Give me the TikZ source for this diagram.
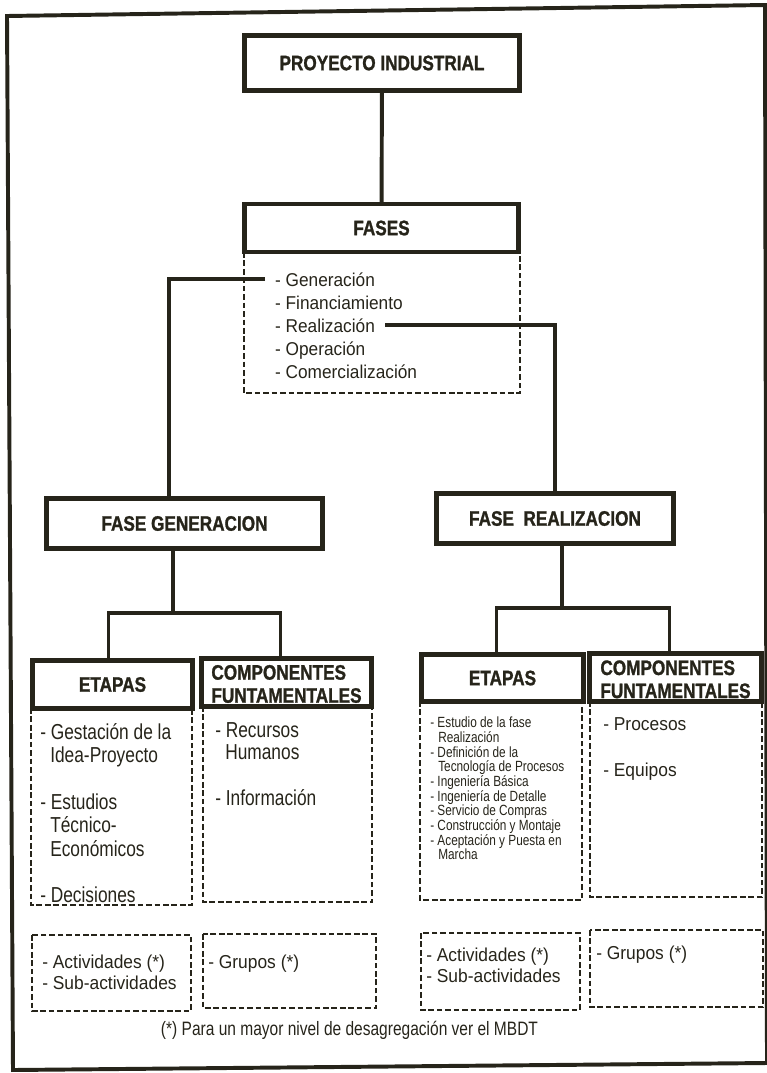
\documentclass[tikz,border=0pt]{standalone}
\usepackage{fontspec}
\setmainfont{Liberation Sans}
\newfontfamily\nfont{Liberation Sans}[FakeStretch=0.93]
\newfontfamily\cfont{Liberation Sans}[FakeStretch=0.80]
\newfontfamily\bfont{Liberation Sans Bold}[FakeStretch=0.82, FakeBold=1.2]
\newlength{\px}
\setlength{\px}{0.025cm}
\newcommand{\contind}{\hspace*{10\px}}
\definecolor{ink}{RGB}{38,36,26}

\begin{document}
\begin{tikzpicture}[x=0.025cm, y=-0.025cm, ink,
  hbox/.style={draw=ink, line width=3pt, inner sep=0pt, font=\bfont\fontsize{14.9}{16.4}\selectfont},
  dbox/.style={draw=ink, line width=1.3pt, dash pattern=on 4pt off 2pt},
  link/.style={draw=ink, line width=2.8pt},
  fitem/.style={anchor=base west, inner xsep=7pt, inner ysep=0pt, font=\nfont\fontsize{13.2}{16}\selectfont},
  item/.style={anchor=north west, inner sep=0pt, align=left}]
\useasboundingbox (0,0) rectangle (767,1073);
\draw[ink, line width=2.8pt] (7,16) -- (765,5) -- (767,1063) -- (13,1070) -- cycle;

\node[hbox, minimum width=275*\px, minimum height=55*\px] (title) at (382,63) {PROYECTO INDUSTRIAL\hspace{11\px}};
\node[hbox, minimum width=274*\px, minimum height=48*\px] (fases) at (381.5,228) {FASES\hspace{40\px}};
\draw[dbox] (244,252) rectangle (520,393);
\node[fitem] (gen) at (265,286) {- Generación};
\node[fitem] (fin) at (265,309) {- Financiamiento};
\node[fitem] (real) at (265,332) {- Realización};
\node[fitem] (oper) at (265,355) {- Operación};
\node[fitem] (comer) at (265,378) {- Comercialización};

\node[hbox, minimum width=276*\px, minimum height=50*\px] (fgen) at (184.5,523.5) {FASE GENERACION\hspace{38\px}};
\node[hbox, minimum width=237*\px, minimum height=50*\px] (freal) at (555,518.5) {FASE\ \ REALIZACION};

\node[hbox, minimum width=160*\px, minimum height=48*\px] (etapasL) at (112.5,684.5) {ETAPAS\hspace{35\px}};
\node[hbox, minimum width=170*\px, minimum height=48*\px, align=left] (compL) at (286.5,682.5) {\rule{0pt}{12.5pt}COMPONENTES\\FUNTAMENTALES};
\node[hbox, minimum width=162*\px, minimum height=47*\px] (etapasR) at (502.5,678) {ETAPAS\hspace{37\px}};
\node[hbox, minimum width=172*\px, minimum height=48*\px, align=left] (compR) at (675.5,677.5) {\rule{0pt}{13pt}COMPONENTES\\FUNTAMENTALES};

% listas
\draw[dbox] (31,708) rectangle (192,905);
\node[item, font=\cfont\fontsize{15.4}{16.65}\selectfont] (etLtxt) at (40,723) {- Gestación de la\\\contind Idea-Proyecto\\[16.6pt]- Estudios\\\contind Técnico-\\\contind Económicos\\[16.6pt]- Decisiones};
\draw[dbox] (203,706) rectangle (372,902);
\node[item, font=\cfont\fontsize{15.4}{16.2}\selectfont] (coLtxt) at (215,722) {- Recursos\\\contind Humanos\\[16pt]- Información};
\draw[dbox] (420,701) rectangle (582,900);
\node[item, font=\cfont\fontsize{10.5}{10.42}\selectfont] (etRtxt) at (430,717) {- Estudio de la fase\\\hspace*{8\px}Realización\\- Definición de la\\\hspace*{8\px}Tecnología de Procesos\\- Ingeniería Básica\\- Ingeniería de Detalle\\- Servicio de Compras\\- Construcción y Montaje\\- Aceptación y Puesta en\\\hspace*{8\px}Marcha};
\draw[dbox] (590,701) rectangle (762,897);
\node[item, font=\nfont\fontsize{13.3}{16.6}\selectfont] (coRtxt) at (603,717) {- Procesos\\[16.6pt]- Equipos};

% actividades y grupos
\draw[dbox] (32,935) rectangle (191,1011);
\node[item, font=\nfont\fontsize{13.3}{15}\selectfont] (acLtxt) at (42,955) {- Actividades (*)\\- Sub-actividades};
\draw[dbox] (203,934) rectangle (376,1008);
\node[item, font=\nfont\fontsize{13.3}{15}\selectfont] (grLtxt) at (208,955) {- Grupos (*)};
\draw[dbox] (421,933) rectangle (580,1010);
\node[item, font=\nfont\fontsize{13.3}{15}\selectfont] (acRtxt) at (426,948) {- Actividades (*)\\- Sub-actividades};
\draw[dbox] (590,930) rectangle (763,1007);
\node[item, font=\nfont\fontsize{13.3}{15}\selectfont] (grRtxt) at (596,946) {- Grupos (*)};

\node[font=\cfont\fontsize{13.8}{15}\selectfont] (nota) at (349.5,1030) {(*) Para un mayor nivel de desagregación ver el MBDT};

\coordinate (jL) at (173,613);
\coordinate (jR) at (562,608);
\draw[link] (title) -- (fases);
\draw[link] (gen.west) -| ([xshift=-15.5*\px]fgen.north);
\draw[link] (real.east) -| (freal.north);
\draw[link] (fgen.south -| jL) -- (jL);
\draw[link] ([xshift=-4*\px]etapasL.north) |- (jL) -| ([xshift=-6*\px]compL.north);
\draw[link] (freal.south -| jR) -- (jR);
\draw[link] ([xshift=-6*\px]etapasR.north) |- (jR) -| ([xshift=-6*\px]compR.north);
\end{tikzpicture}
\end{document}
